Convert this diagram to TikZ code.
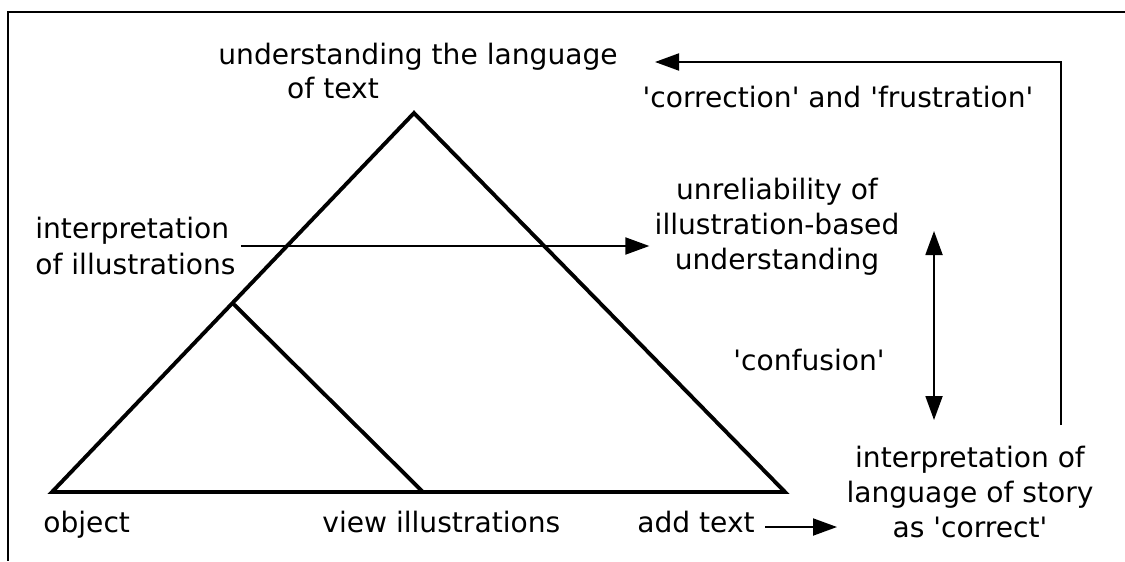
\documentclass[tikz,border=0pt]{standalone}
\usepackage{fontspec}
\setmainfont{DejaVu Sans}
\usetikzlibrary{arrows.meta}
\newcommand{\xL}{1.04}
\newcommand{\xM}{8.46}
\newcommand{\xT}{8.28}
\newcommand{\xR}{15.70}
\newcommand{\yB}{1.38}
\newcommand{\yT}{8.96}
\newcommand{\tq}{\textquotesingle}
\tikzset{
  lbl/.style={font=\fontsize{16}{20}\selectfont,align=center,inner sep=1mm},
  tri/.style={line width=2.2pt},
  arr/.style={-{Triangle[length=4.8mm,width=3.4mm]},line width=1.1pt},
  dblarr/.style={{Triangle[length=4.8mm,width=3.4mm]}-{Triangle[length=4.8mm,width=3.4mm]},line width=1.1pt}
}

\begin{document}
\begin{tikzpicture}[x=1cm,y=1cm]
\useasboundingbox (0,0) rectangle (22.5,11.22);

%% ---------------- frame, top and left only ----------------
\draw[line width=1.1pt] (22.5,10.98) -- (0.16,10.98) -- (0.16,0);

%% ---------------- the two triangles ----------------
\draw[tri] (\xL,\yB) -- (\xT,\yT) -- (\xR,\yB) -- cycle;
\draw[tri] (4.65,5.16) -- (\xM,\yB);

%% ---------------- labels ----------------
\node[lbl,anchor=west] (lang) at (4.26,10.08) {understanding the language};
\node[lbl] (langb) at (6.66,9.46) {of text};
\node[lbl] (corr) at (16.76,9.28) {\tq correction\tq{} and \tq frustration\tq};
\node[lbl,anchor=west,align=left] (illus) at (0.60,6.30) {interpretation\\of illustrations};
\node[lbl] (unrel) at (15.54,6.68) {unreliability of\\illustration-based\\understanding};
\node[lbl] (conf) at (16.18,4.02) {\tq confusion\tq};
\node[lbl] (story) at (19.40,1.38) {interpretation of\\language of story\\as \tq correct\tq};
\node[lbl,anchor=base west] (obj) at (0.76,0.58) {object};
\node[lbl,anchor=base west] (view) at (6.34,0.58) {view illustrations};
\node[lbl,anchor=base east] (add) at (15.20,0.58) {add text};

%% ---------------- connectors ----------------
\coordinate (fbstart) at (21.22,2.72);
\coordinate (fbend) at (13.10,9.98);
\draw[arr] (fbstart) |- (fbend);
\draw[arr] (illus.east) -- (illus.east -| unrel.west);
\coordinate (cfA) at (18.68,6.60);
\coordinate (cfB) at (18.68,2.82);
\draw[dblarr] (cfA) -- (cfB);
\coordinate (addend) at (16.74,0.68);
\draw[arr] ([shift={(0.1,0.1)}]add.base east) -- (addend);

\end{tikzpicture}
\end{document}
